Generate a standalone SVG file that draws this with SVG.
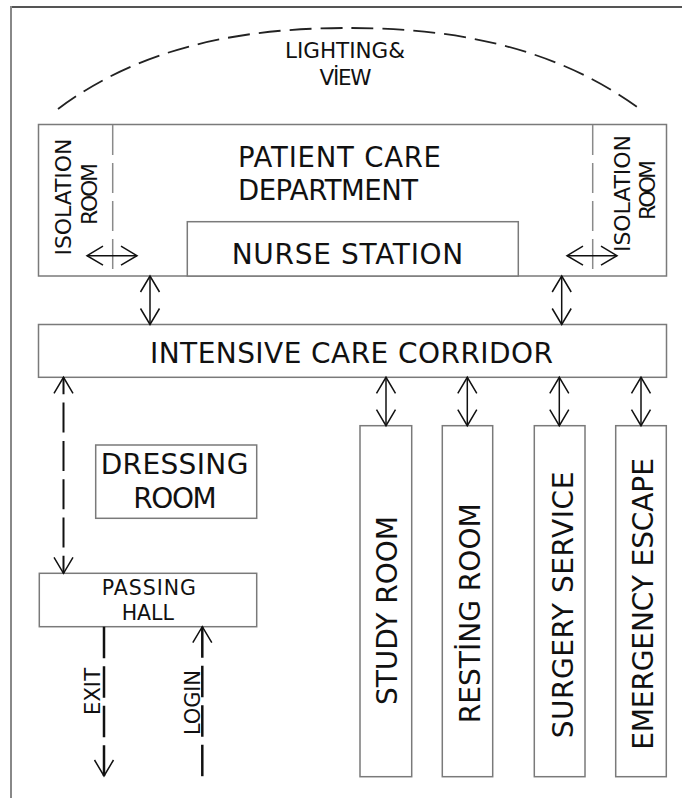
<svg xmlns="http://www.w3.org/2000/svg" width="682" height="798" viewBox="0 0 682 798">
<style>
  .box{fill:#fff;stroke:#7a7a7a;stroke-width:1.5}
  .div{stroke:#8a8a8a;stroke-width:1.5;stroke-dasharray:30 8;fill:none}
  .t{font-family:"DejaVu Sans","Liberation Sans",sans-serif;fill:#111}
  .c{text-anchor:middle}
  .arr{stroke:#111;stroke-width:1.5;fill:none;marker-start:url(#ah);marker-end:url(#ah)}
  .dl{stroke:#111;fill:none}
</style>
<defs>
  <marker id="ah" viewBox="-20 -12 24 24" markerWidth="24" markerHeight="24" refX="0" refY="0" markerUnits="userSpaceOnUse" orient="auto-start-reverse" overflow="visible">
    <path d="M-16,-9.5 L0,0 L-16,9.5" fill="none" stroke="#111" stroke-width="1.5" stroke-linejoin="miter"/>
  </marker>
  <marker id="ahe" viewBox="-20 -12 24 24" markerWidth="24" markerHeight="24" refX="0" refY="0" markerUnits="userSpaceOnUse" orient="auto" overflow="visible">
    <path d="M-16,-9.5 L0,0 L-16,9.5" fill="none" stroke="#111" stroke-width="1.5"/>
  </marker>
</defs>
<rect width="682" height="798" fill="#fff"/>
<g id="frame">
  <line x1="10" y1="7" x2="682" y2="7" stroke="#555" stroke-width="2"/>
  <line x1="11" y1="6" x2="11" y2="798" stroke="#888" stroke-width="2"/>
</g>
<g id="lighting-view">
  <path d="M58,109 C150,40 260,28 348,28 C436,28 546,40 640,109" fill="none" stroke="#222" stroke-width="1.8" stroke-dasharray="22 9"/>
  <text class="t c" x="345" y="58" font-size="21.5" textLength="120">LIGHTING&amp;</text>
  <text class="t c" x="345.5" y="85" font-size="21.5" textLength="52">VİEW</text>
</g>
<g id="patient-care-department">
  <rect class="box" x="38.5" y="124.5" width="628" height="151.5"/>
  <text class="t" x="238" y="166.7" font-size="27.5" textLength="203">PATIENT CARE</text>
  <text class="t" x="238" y="200" font-size="27.5" textLength="180">DEPARTMENT</text>
</g>
<g id="isolation-room-left">
  <line class="div" x1="112.7" y1="125" x2="112.7" y2="276"/>
  <text class="t c" transform="translate(71,197) rotate(-90)" font-size="22" textLength="117">ISOLATION</text>
  <text class="t c" transform="translate(97,194) rotate(-90)" font-size="22" textLength="62">ROOM</text>
</g>
<g id="isolation-room-right">
  <line class="div" x1="592.7" y1="125" x2="592.7" y2="276"/>
  <text class="t c" transform="translate(630,193.5) rotate(-90)" font-size="22" textLength="117">ISOLATION</text>
  <text class="t c" transform="translate(655,190) rotate(-90)" font-size="22" textLength="60">ROOM</text>
</g>
<g id="nurse-station">
  <rect class="box" x="187.3" y="221.7" width="331" height="54.3"/>
  <text class="t c" x="347.5" y="264" font-size="28" textLength="231.6">NURSE STATION</text>
</g>
<g id="intensive-care-corridor">
  <rect class="box" x="38.5" y="324.5" width="628" height="52.8"/>
  <text class="t c" x="351.5" y="362.5" font-size="28" textLength="403">INTENSIVE CARE CORRIDOR</text>
</g>
<g id="dressing-room">
  <rect class="box" x="95.7" y="445" width="161" height="73.3"/>
  <text class="t c" x="174.5" y="474.3" font-size="28" textLength="147.7">DRESSING</text>
  <text class="t c" x="175" y="508.3" font-size="28" textLength="83.3">ROOM</text>
</g>
<g id="passing-hall">
  <rect class="box" x="39.3" y="573.3" width="217.4" height="53.4"/>
  <text class="t c" x="148.8" y="595" font-size="20.5" textLength="94.3">PASSING</text>
  <text class="t c" x="147.8" y="620" font-size="20.5" textLength="52.3">HALL</text>
</g>
<g id="study-room">
  <rect class="box" x="360" y="425.7" width="51.7" height="351"/>
  <text class="t c" transform="translate(397,610.5) rotate(-90)" font-size="28" textLength="189">STUDY ROOM</text>
</g>
<g id="resting-room">
  <rect class="box" x="442.3" y="425.7" width="50.4" height="351"/>
  <text class="t c" transform="translate(480,613.3) rotate(-90)" font-size="28" textLength="220">RESTİNG ROOM</text>
</g>
<g id="surgery-service">
  <rect class="box" x="534.3" y="425.7" width="50.7" height="351"/>
  <text class="t c" transform="translate(572.5,605) rotate(-90)" font-size="28" textLength="266.7">SURGERY SERVICE</text>
</g>
<g id="emergency-escape">
  <rect class="box" x="615.7" y="425.7" width="50.6" height="351"/>
  <text class="t c" transform="translate(653,604) rotate(-90)" font-size="28" textLength="291.7">EMERGENCY ESCAPE</text>
</g>
<g id="connectors">
  <path class="arr" d="M87,255.7 H137"/>
  <path class="arr" d="M567,255.7 H617"/>
  <path class="arr" d="M150,276 V324.5"/>
  <path class="arr" d="M561.7,276 V324.5"/>
  <path class="arr" d="M386,377.3 V425.7"/>
  <path class="arr" d="M467.3,377.3 V425.7"/>
  <path class="arr" d="M559.3,377.3 V425.7"/>
  <path class="arr" d="M641,377.3 V425.7"/>
  <path class="dl" d="M63.5,377.3 V573.3" stroke-width="2" stroke-dasharray="30 8.3" stroke-dashoffset="13" marker-start="url(#ah)" marker-end="url(#ah)"/>
  <path class="dl" d="M104,626.7 V776" stroke-width="2.5" stroke-dasharray="31.5 8" marker-end="url(#ahe)"/>
  <path class="dl" d="M202.3,776.7 V626.7" stroke-width="2.5" stroke-dasharray="31.5 8" stroke-dashoffset="-0.5" marker-end="url(#ahe)"/>
  <text class="t c" transform="translate(100,691.5) rotate(-90)" font-size="21" textLength="47">EXIT</text>
  <text class="t c" transform="translate(199.5,702.5) rotate(-90)" font-size="21" textLength="65">LOGIN</text>
</g>
</svg>
